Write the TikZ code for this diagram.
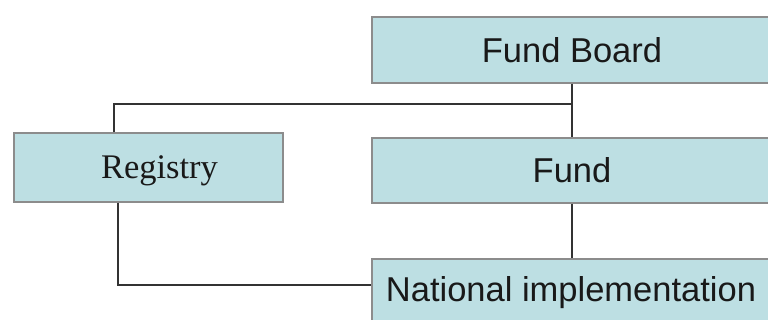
\documentclass[tikz,border=0pt]{standalone}
\usepackage{fontspec}
\setmainfont{Liberation Sans}
\newfontfamily\serifface{Liberation Serif}
\definecolor{boxfill}{HTML}{BDDFE3}
\definecolor{boxline}{HTML}{8C8C8C}
\definecolor{linkcol}{HTML}{333333}
\begin{document}
\begin{tikzpicture}[x=1pt,y=-1pt,
  orgbox/.style={draw=boxline,line width=1.2pt,fill=boxfill,inner sep=0pt,
    font=\fontsize{34.5}{40}\selectfont,text=black!90},
  link/.style={draw=linkcol,line width=2pt}]
\clip (0,0) rectangle (768,320);
\fill[white] (0,0) rectangle (768,320);
\node[orgbox,minimum width=400pt,minimum height=66pt] (fb) at (572,50) {Fund Board};
\node[orgbox,minimum width=269pt,minimum height=69pt,font=\serifface\fontsize{34.5}{40}\selectfont] (reg) at (148.5,167.5) {};
\node[font=\serifface\fontsize{34.5}{40}\selectfont,text=black!90,inner sep=0pt] (regtext) at ([xshift=11pt,yshift=-3pt]reg.center) {Registry};
\node[orgbox,minimum width=400pt,minimum height=65pt] (fund) at (572,170.5) {Fund};
\node[orgbox,minimum width=400pt,minimum height=68pt] (ni) at (572,293) {\hspace*{-2pt}National implementation};
\coordinate (j) at (572,104);
\draw[link] (fb.south) -- (fund.north);
\draw[link] ([xshift=-34.5pt]reg.north) |- (j);
\draw[link] (fund.south) -- (ni.north);
\draw[link] ([xshift=-30.5pt]reg.south) |- ([yshift=8pt]ni.west);
\end{tikzpicture}
\end{document}
